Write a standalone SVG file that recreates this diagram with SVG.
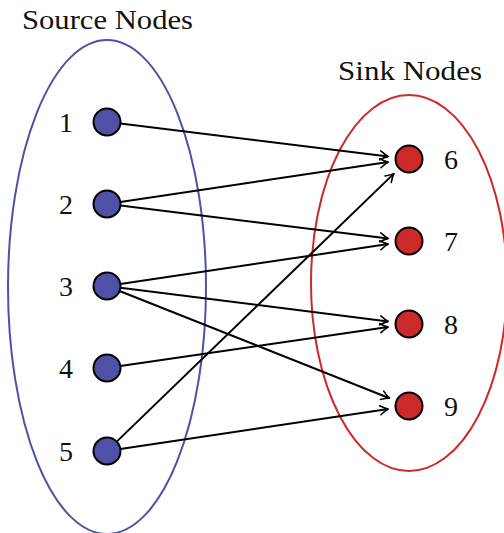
<svg xmlns="http://www.w3.org/2000/svg" width="504" height="533" viewBox="0 0 504 533">
<style>
.lbl{font-family:"Liberation Serif","DejaVu Serif",serif;font-size:27px;fill:#111;}
.num{font-family:"Liberation Serif","DejaVu Serif",serif;font-size:28px;fill:#111;text-anchor:middle;}
.src{fill:#5050A6;stroke:#000;stroke-width:2;}
.snk{fill:#CC2A2A;stroke:#000;stroke-width:2;}
.edge{stroke:#000;stroke-width:2;fill:none;marker-end:url(#arr);}
</style>
<defs>
<marker id="arr" markerUnits="userSpaceOnUse" viewBox="-10 -6 12 12" refX="0" refY="0" markerWidth="12" markerHeight="12" orient="auto">
<path d="M-8,-4.5 Q-3,-1 0,0 Q-3,1 -8,4.5" fill="none" stroke="#000" stroke-width="1.6" stroke-linecap="round" stroke-linejoin="round"/>
</marker>
</defs>
<g id="source-set">
<ellipse cx="107" cy="287" rx="99" ry="247" fill="none" stroke="#5050A6" stroke-width="2"/>
<text class="lbl" x="22" y="29" textLength="171" lengthAdjust="spacingAndGlyphs">Source Nodes</text>
</g>
<g id="sink-set">
<ellipse cx="409" cy="283" rx="98" ry="188" fill="none" stroke="#CC2A2A" stroke-width="2"/>
<text class="lbl" x="338" y="80" textLength="144" lengthAdjust="spacingAndGlyphs">Sink Nodes</text>
</g>
<g id="connectors">
<line class="edge" x1="120.4" y1="123.6" x2="388.2" y2="156.4"/>
<line class="edge" x1="120.4" y1="202.0" x2="388.2" y2="162.1"/>
<line class="edge" x1="120.4" y1="205.6" x2="388.2" y2="238.4"/>
<line class="edge" x1="120.4" y1="284.0" x2="388.2" y2="244.1"/>
<line class="edge" x1="120.4" y1="287.7" x2="388.2" y2="321.4"/>
<line class="edge" x1="119.5" y1="291.0" x2="389.5" y2="398.2"/>
<line class="edge" x1="120.4" y1="366.1" x2="388.2" y2="327.0"/>
<line class="edge" x1="116.7" y1="441.6" x2="393.9" y2="173.6"/>
<line class="edge" x1="120.4" y1="449.0" x2="388.2" y2="409.1"/>
</g>
<g id="node1"><circle class="src" cx="107" cy="122" r="13.5"/><text class="num" x="66" y="132">1</text></g>
<g id="node2"><circle class="src" cx="107" cy="204" r="13.5"/><text class="num" x="66" y="214">2</text></g>
<g id="node3"><circle class="src" cx="107" cy="286" r="13.5"/><text class="num" x="66" y="296">3</text></g>
<g id="node4"><circle class="src" cx="107" cy="368" r="13.5"/><text class="num" x="66" y="378">4</text></g>
<g id="node5"><circle class="src" cx="107" cy="451" r="13.5"/><text class="num" x="66" y="461">5</text></g>
<g id="node6"><circle class="snk" cx="409" cy="159" r="13.5"/><text class="num" x="451" y="169">6</text></g>
<g id="node7"><circle class="snk" cx="409" cy="241" r="13.5"/><text class="num" x="451" y="251">7</text></g>
<g id="node8"><circle class="snk" cx="409" cy="324" r="13.5"/><text class="num" x="451" y="334">8</text></g>
<g id="node9"><circle class="snk" cx="409" cy="406" r="13.5"/><text class="num" x="451" y="416">9</text></g>
</svg>
